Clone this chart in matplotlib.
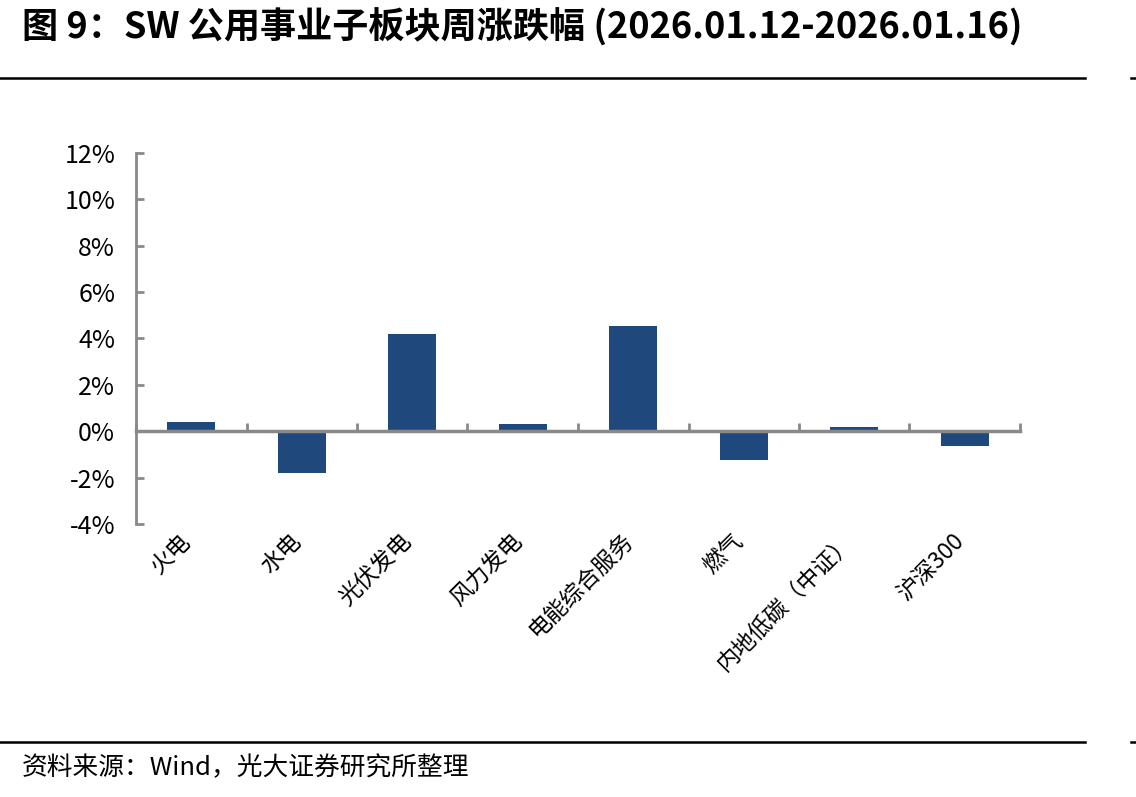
import matplotlib
matplotlib.use("Agg")
import matplotlib.pyplot as plt
from matplotlib.lines import Line2D
import numpy as np

plt.rcParams['font.family'] = ['Noto Sans CJK SC', 'DejaVu Sans']

categories = ["火电", "水电", "光伏发电", "风力发电", "电能综合服务", "燃气", "内地低碳（中证）", "沪深300"]
values = [0.39, -1.82, 4.18, 0.31, 4.53, -1.23, 0.17, -0.63]
yticks = [-4, -2, 0, 2, 4, 6, 8, 10, 12]
title = "图 9：SW 公用事业子板块周涨跌幅 (2026.01.12-2026.01.16)"
source = "资料来源：Wind，光大证券研究所整理"

W, H = 1136, 797
fig = plt.figure(figsize=(W / 100, H / 100), dpi=100)
ax = fig.add_axes([136 / W, 1 - 524 / H, (1020 - 136) / W, (524 - 153) / H])

gray = '#898989'
x = np.arange(len(categories))
ax.bar(x, values, width=0.43, color='#1F497D', zorder=2)

ax.set_xlim(-0.5, len(categories) - 0.5)
ax.set_ylim(-4, 12)
ax.set_yticks(yticks)
ax.set_yticklabels([f"{v}%" for v in yticks], fontsize=18)

for s in ['top', 'right']:
    ax.spines[s].set_visible(False)
ax.spines['left'].set_color(gray)
ax.spines['left'].set_linewidth(2)
ax.spines['bottom'].set_position(('data', 0))
ax.spines['bottom'].set_color(gray)
ax.spines['bottom'].set_linewidth(2.5)
ax.spines['bottom'].set_zorder(3)

ax.tick_params(axis='y', direction='in', length=6, width=2, color=gray, pad=15)
ax.set_xticks(np.arange(len(categories) + 1) - 0.5)
ax.set_xticklabels([])
ax.tick_params(axis='x', direction='in', length=6, width=2, color=gray)

for i, lab in enumerate(categories):
    ax.text(i - 0.11, -4.22, lab, rotation=45, rotation_mode='anchor',
            ha='right', va='top', fontsize=16.5, color='black')

fig.text(22 / W, 1 - 27 / H, title, fontsize=26, fontweight='bold', ha='left', va='center')
fig.text(22 / W, 1 - 768 / H, source, fontsize=18.5, ha='left', va='center')

for yy in [78, 742]:
    fig.add_artist(Line2D([0, 1085 / W], [1 - yy / H, 1 - yy / H], color='black', lw=1.8))
    fig.add_artist(Line2D([1131 / W, 1136 / W], [1 - yy / H, 1 - yy / H], color='black', lw=1.8))

fig.savefig('out.png', dpi=100)
